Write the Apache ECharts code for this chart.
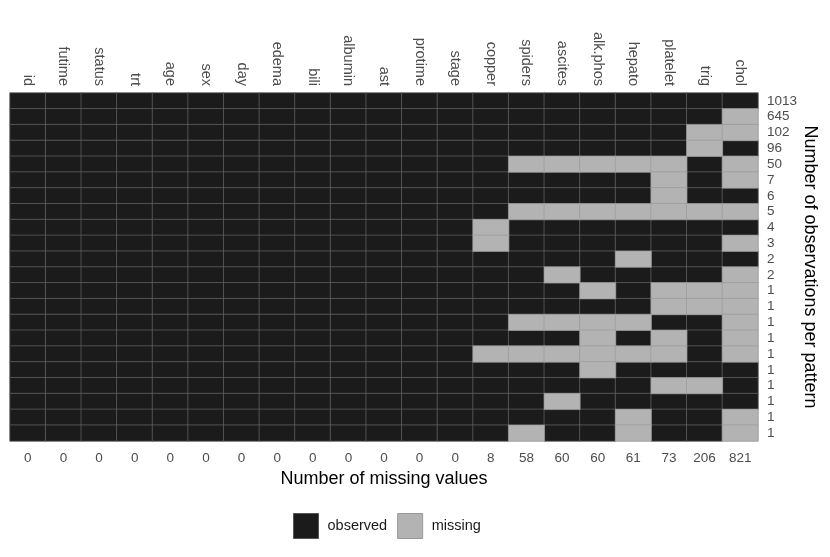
<!DOCTYPE html>
<html>
<head>
<meta charset="utf-8">
<script src="https://cdn.jsdelivr.net/npm/echarts@6/dist/echarts.min.js"></script>
<style>
  html, body { margin: 0; padding: 0; background: #fff; }
  #chart { width: 830px; height: 557px; }
</style>
</head>
<body>
<div id="chart"></div>
<script>
// variables, in plot order
const variables = ["id", "futime", "status", "trt", "age", "sex", "day", "edema", "bili",
  "albumin", "ast", "protime", "stage", "copper", "spiders", "ascites", "alk.phos",
  "hepato", "platelet", "trig", "chol"];
// missing values per variable (bottom labels)
const missingCounts = [0, 0, 0, 0, 0, 0, 0, 0, 0, 0, 0, 0, 0, 8, 58, 60, 60, 61, 73, 206, 821];
// number of observations per pattern (right labels)
const patternCounts = [1013, 645, 102, 96, 50, 7, 6, 5, 4, 3, 2, 2, 1, 1, 1, 1, 1, 1, 1, 1, 1, 1];
// missing flags for copper..chol in each pattern (1 = missing); earlier columns are complete
const tailPatterns = [
  [0, 0, 0, 0, 0, 0, 0, 0],
  [0, 0, 0, 0, 0, 0, 0, 1],
  [0, 0, 0, 0, 0, 0, 1, 1],
  [0, 0, 0, 0, 0, 0, 1, 0],
  [0, 1, 1, 1, 1, 1, 0, 1],
  [0, 0, 0, 0, 0, 1, 0, 1],
  [0, 0, 0, 0, 0, 1, 0, 0],
  [0, 1, 1, 1, 1, 1, 1, 1],
  [1, 0, 0, 0, 0, 0, 0, 0],
  [1, 0, 0, 0, 0, 0, 0, 1],
  [0, 0, 0, 0, 1, 0, 0, 0],
  [0, 0, 1, 0, 0, 0, 0, 1],
  [0, 0, 0, 1, 0, 1, 1, 1],
  [0, 0, 0, 0, 0, 1, 1, 1],
  [0, 1, 1, 1, 1, 0, 0, 1],
  [0, 0, 0, 1, 0, 1, 0, 1],
  [1, 1, 1, 1, 1, 1, 0, 1],
  [0, 0, 0, 1, 0, 0, 0, 0],
  [0, 0, 0, 0, 0, 1, 1, 0],
  [0, 0, 1, 0, 0, 0, 0, 0],
  [0, 0, 0, 0, 1, 0, 0, 1],
  [0, 1, 0, 0, 1, 0, 0, 1]
];

const observedColor = "#1b1b1b";
const missingColor = "#b3b3b3";
const labelColor = "#4d4d4d";

const nComplete = variables.length - tailPatterns[0].length;
const observedData = [];
const missingData = [];
tailPatterns.forEach((row, r) => {
  variables.forEach((v, c) => {
    const miss = c >= nComplete ? row[c - nComplete] : 0;
    (miss ? missingData : observedData).push([c, r, miss]);
  });
});

const colIdx = variables.map((v, i) => String(i));
const rowIdx = patternCounts.map((v, i) => String(i));

const chart = echarts.init(document.getElementById("chart"));
chart.setOption({
  animation: false,
  textStyle: { fontFamily: "Liberation Sans, Arial, sans-serif" },
  grid: {
    left: 10, right: 72, top: 93, bottom: 116,
    outerBoundsMode: "none",
    containLabel: false,
    show: true, borderColor: "#d6d6d6", borderWidth: 1
  },
  legend: {
    top: 508,
    left: 288,
    itemWidth: 25,
    itemHeight: 25,
    itemGap: 10,
    textStyle: { fontSize: 14.5, color: "#1a1a1a", padding: [0, 0, 0, 4] },
    data: [
      { name: "observed", icon: "rect", itemStyle: { color: observedColor, borderColor: "#555", borderWidth: 1 } },
      { name: "missing", icon: "rect", itemStyle: { color: missingColor, borderColor: "#999", borderWidth: 1 } }
    ]
  },
  xAxis: [
    {
      type: "category",
      position: "top",
      data: colIdx,
      axisLine: { show: false },
      axisTick: { show: false },
      splitLine: { show: false },
      axisLabel: {
        rotate: 90,
        margin: 7,
        fontSize: 14.5,
        color: labelColor,
        interval: 0,
        padding: [0, 0, 7, 0],
        formatter: (v) => variables[+v]
      }
    },
    {
      type: "category",
      position: "bottom",
      data: colIdx,
      axisLine: { show: false },
      axisTick: { show: false },
      axisLabel: {
        margin: 10,
        fontSize: 13.5,
        color: labelColor,
        interval: 0,
        formatter: (v) => String(missingCounts[+v])
      },
      name: "Number of missing values",
      nameLocation: "middle",
      nameGap: 26,
      nameTextStyle: { fontSize: 18, color: "#000" }
    }
  ],
  yAxis: {
    type: "category",
    position: "right",
    inverse: true,
    data: rowIdx,
    axisLine: { show: false },
    axisTick: { show: false },
    axisLabel: {
      margin: 9,
      fontSize: 13.5,
      color: labelColor,
      interval: 0,
      formatter: (v) => String(patternCounts[+v])
    },
    name: "Number of observations per pattern",
    nameLocation: "middle",
    nameRotate: -90,
    nameGap: 43,
    nameMoveOverlap: false,
    nameTextStyle: { fontSize: 18, color: "#000" }
  },
  series: [
    {
      name: "observed",
      type: "heatmap",
      xAxisIndex: 0,
      data: observedData,
      itemStyle: { color: observedColor, borderColor: "#666666", borderWidth: 0.7 },
      emphasis: { disabled: true }
    },
    {
      name: "missing",
      type: "heatmap",
      xAxisIndex: 0,
      data: missingData,
      itemStyle: { color: missingColor, borderColor: "#999999", borderWidth: 0.7 },
      emphasis: { disabled: true }
    }
  ]
});
</script>
</body>
</html>
